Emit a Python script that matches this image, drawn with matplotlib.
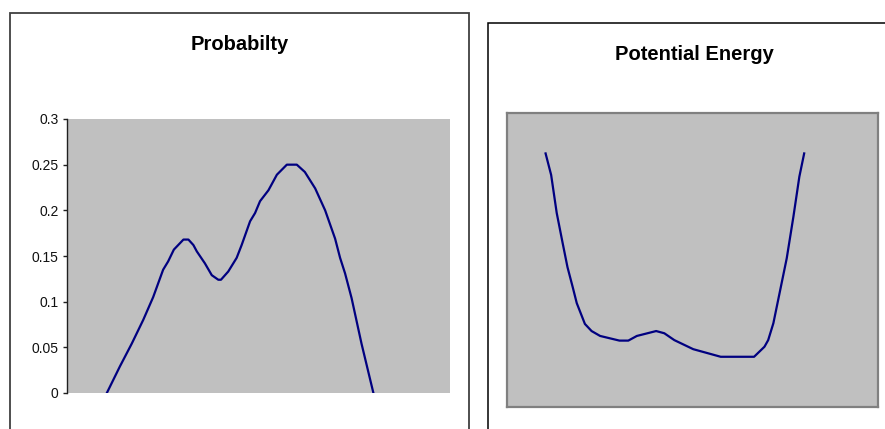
import matplotlib
matplotlib.use("Agg")
import matplotlib.pyplot as plt
from matplotlib.patches import Rectangle

plt.rcParams['font.family'] = ['Liberation Sans', 'DejaVu Sans']

# probability density along the coordinate
x_prob = [1.04, 1.38, 1.69, 1.99, 2.25, 2.51, 2.64, 2.79, 3.04, 3.17, 3.30, 3.39,
          3.60, 3.78, 3.95, 4.02, 4.21, 4.43, 4.56, 4.78, 4.91, 5.04, 5.26, 5.48,
          5.74, 6.00, 6.21, 6.48, 6.74, 7.00, 7.13, 7.26, 7.43, 7.69, 8.00]
prob = [0.000, 0.029, 0.054, 0.080, 0.105, 0.135, 0.144, 0.157, 0.168, 0.168, 0.162, 0.155,
        0.142, 0.129, 0.124, 0.124, 0.133, 0.148, 0.162, 0.188, 0.197, 0.210, 0.222, 0.239,
        0.250, 0.250, 0.242, 0.224, 0.200, 0.169, 0.148, 0.131, 0.104, 0.054, 0.000]
prob_ticks = [0, 0.05, 0.1, 0.15, 0.2, 0.25, 0.3]
prob_labels = ['0', '0.05', '0.1', '0.15', '0.2', '0.25', '0.3']

# potential energy curve
x_pot = [-3.96, -3.81, -3.66, -3.50, -3.37, -3.23, -3.12, -2.90, -2.72, -2.49, -1.97,
         -1.73, -1.50, -0.98, -0.76, -0.49, 0.02, 0.76, 1.01, 1.66, 1.94, 2.04, 2.18,
         2.54, 2.72, 2.88, 3.01]
pot = [10.35, 9.47, 7.92, 6.69, 5.71, 4.90, 4.24, 3.39, 3.10, 2.90, 2.71,
       2.71, 2.90, 3.10, 3.01, 2.73, 2.36, 2.05, 2.05, 2.05, 2.46, 2.73, 3.42,
       6.07, 7.77, 9.40, 10.35]

W, H = 885, 429
fig = plt.figure(figsize=(W / 100, H / 100), dpi=100)
fig.patch.set_facecolor('white')

# chart frames (run off the bottom / right edge)
fig.patches.append(Rectangle((9.5 / W, -0.1), (468.5 - 9.5) / W, (H - 13) / H + 0.1,
                             transform=fig.transFigure, fill=False,
                             edgecolor='#404040', linewidth=1.3, clip_on=False))
fig.patches.append(Rectangle((487.5 / W, -0.1), 0.5, (H - 23) / H + 0.1,
                             transform=fig.transFigure, fill=False,
                             edgecolor='black', linewidth=1.1, clip_on=False))

navy = '#000080'
gray = '#C0C0C0'

# left: probability
ax1 = fig.add_axes([67 / W, (H - 393) / H, 383 / W, 274 / H])
ax1.set_facecolor(gray)
ax1.plot(x_prob, prob, color=navy, linewidth=1.6)
ax1.set_xlim(0, 10)
ax1.set_ylim(0, 0.3)
ax1.set_yticks(prob_ticks)
ax1.set_yticklabels(prob_labels)
ax1.set_xticks([])
for s in ['top', 'right', 'bottom']:
    ax1.spines[s].set_visible(False)
ax1.spines['left'].set_color('#202020')
ax1.spines['left'].set_linewidth(1.0)
ax1.tick_params(axis='y', length=3, width=1.0, color='#202020', pad=3,
                labelsize=10, labelcolor='#111111')
fig.text(240 / W, (H - 44) / H, 'Probabilty', ha='center', va='center',
         fontsize=14.5, fontweight='bold')

# right: potential energy
ax2 = fig.add_axes([507 / W, (H - 407) / H, 371 / W, 294 / H])
ax2.set_facecolor(gray)
ax2.plot(x_pot, pot, color=navy, linewidth=1.6)
ax2.set_xlim(-5, 5)
ax2.set_ylim(0, 12)
ax2.set_xticks([])
ax2.set_yticks([])
for s in ax2.spines.values():
    s.set_color('#808080')
    s.set_linewidth(1.6)
fig.text(694 / W, (H - 54) / H, 'Potential Energy', ha='center', va='center',
         fontsize=14.5, fontweight='bold')

fig.savefig('out.png', dpi=100)
